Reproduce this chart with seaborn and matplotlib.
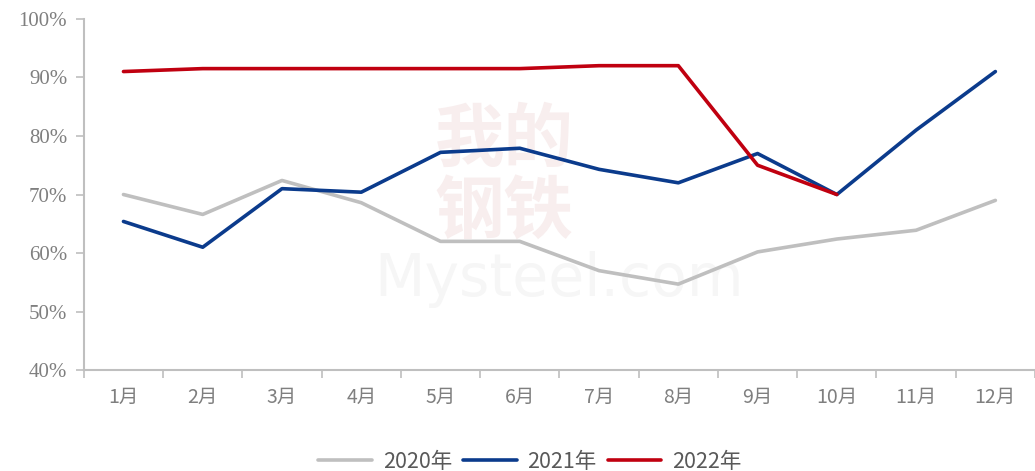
import pandas as pd
import matplotlib.pyplot as plt
import seaborn as sns
from matplotlib.ticker import FixedLocator, PercentFormatter

# Data
months = ["1月", "2月", "3月", "4月", "5月", "6月", "7月", "8月", "9月", "10月", "11月", "12月"]
rate_2020 = [70.0, 66.6, 72.4, 68.6, 62.0, 62.0, 57.0, 54.7, 60.2, 62.4, 63.9, 69.0]
rate_2021 = [65.4, 61.0, 71.0, 70.4, 77.2, 77.9, 74.3, 72.0, 77.0, 70.0, 81.0, 91.0]
rate_2022 = [91.0, 91.5, 91.5, 91.5, 91.5, 91.5, 92.0, 92.0, 75.0, 70.0]
years = ["2020年", "2021年", "2022年"]

rows = []
for year, vals in zip(years, [rate_2020, rate_2021, rate_2022]):
    for i, v in enumerate(vals):
        rows.append({"month": i, "rate": v, "year": year})
df = pd.DataFrame(rows)

sns.set_theme(style="white")
plt.rcParams["font.family"] = ["Noto Sans CJK SC", "DejaVu Sans"]

palette = {"2020年": "#BFBFBF", "2021年": "#0B3B8C", "2022年": "#C00010"}

fig = plt.figure(figsize=(10.35, 4.71), dpi=100)
ax = fig.add_axes([0.081, 0.214, 0.919, 0.746])

# faint watermark
ax.text(4.8, 73, "我的\n钢铁", fontsize=50, color="#F8EEEE", ha="center", va="center",
        linespacing=1.05, zorder=0, fontweight="bold")
ax.text(5.5, 55.5, "Mysteel.com", fontsize=42, color="#F6F6F6", ha="center", va="center",
        zorder=0, family=["DejaVu Sans"])

sns.lineplot(data=df, x="month", y="rate", hue="year", palette=palette,
             linewidth=2.6, ax=ax, legend=True, zorder=3)

ax.set_xlim(-0.5, 11.5)
ax.set_ylim(40, 100)
ax.set_xlabel("")
ax.set_ylabel("")

ax.set_xticks(range(12))
ax.set_xticklabels(months)
ax.xaxis.set_minor_locator(FixedLocator([i - 0.5 for i in range(13)]))
ax.tick_params(axis="x", which="major", length=0, pad=12, labelsize=14, labelcolor="#7F7F7F")
ax.tick_params(axis="x", which="minor", length=6, width=1.2, color="#BFBFBF", direction="out", bottom=True)

ax.set_yticks(range(40, 101, 10))
ax.yaxis.set_major_formatter(PercentFormatter(decimals=0))
ax.tick_params(axis="y", length=6, width=1.2, color="#BFBFBF", direction="out", left=True,
               labelsize=15, labelcolor="#7F7F7F", pad=6)
for lab in ax.get_yticklabels():
    lab.set_family(["Liberation Serif"])

for side in ["top", "right"]:
    ax.spines[side].set_visible(False)
for side in ["left", "bottom"]:
    ax.spines[side].set_color("#BFBFBF")
    ax.spines[side].set_linewidth(1.5)

handles, labels = ax.get_legend_handles_labels()
ax.get_legend().remove()
fig.legend(handles, labels, loc="lower center", bbox_to_anchor=(0.512, -0.045),
           ncol=3, frameon=False, fontsize=15.5, handlelength=2.5, columnspacing=0.5,
           handletextpad=0.5, labelcolor="#595959")

fig.savefig("out.png", dpi=100)
